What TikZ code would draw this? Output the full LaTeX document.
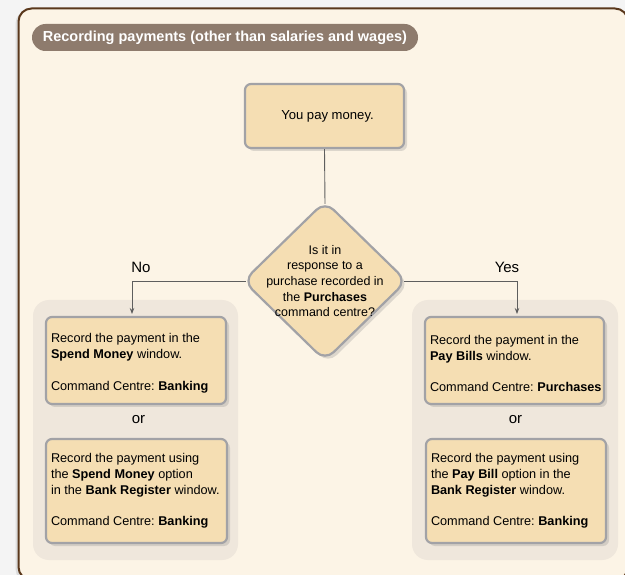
\documentclass[tikz,border=0pt]{standalone}
\usepackage{fontspec}
\setmainfont{Liberation Sans}
\usetikzlibrary{shapes.geometric,shadows,arrows.meta}
\definecolor{pagebg}{HTML}{F4F4F4}
\definecolor{framefill}{HTML}{FCF4E6}
\definecolor{framedraw}{HTML}{5A381C}
\definecolor{pillfill}{HTML}{8E7B6D}
\definecolor{groupfill}{HTML}{EFE7DC}
\definecolor{boxfill}{HTML}{F5DEB3}
\definecolor{boxdraw}{HTML}{A2A2A6}
\definecolor{linecol}{HTML}{5E5E5E}
\begin{document}
\frenchspacing
\begin{tikzpicture}[x=1pt,y=-1pt,
  boxstyle/.style={draw=boxdraw,line width=2.2pt,fill=boxfill,rounded corners=6pt,
    drop shadow={opacity=0.25,shadow xshift=3pt,shadow yshift=-3pt},
    inner sep=0pt},
  infobox/.style={boxstyle,minimum width=#1,text width=#1-10pt,align=flush left,
    font=\fontsize{12.7}{15.8}\selectfont},
  groupbox/.style={fill=groupfill,rounded corners=16pt,minimum width=205pt,minimum height=260pt},
  conn/.style={draw=linecol,line width=0.9pt},
  arr/.style={conn,-{Stealth[length=6pt,width=4.5pt]}},
  lbl/.style={font=\fontsize{15}{17}\selectfont,inner sep=0pt}
]
\useasboundingbox (0,0) rectangle (625,575);
\clip (0,0) rectangle (625,575);
\fill[pagebg] (0,0) rectangle (625,575);
\draw[fill=framefill,draw=framedraw,line width=2pt,rounded corners=13pt,
  drop shadow={opacity=0.2,shadow xshift=-3pt,shadow yshift=-2pt}] (18.5,8.5) rectangle (628,580);

\node[fill=pillfill,rounded corners=13.5pt,minimum width=386pt,minimum height=27pt,inner sep=0pt,
  text=white,font=\bfseries\fontsize{14.5}{16}\selectfont] (title) at (225,37.5)
  {Recording payments (other than salaries and wages)};

\node[groupbox] (lgroup) at (135.5,430) {};
\node[groupbox,minimum width=206pt] (rgroup) at (515,430) {};

\node[boxstyle,minimum width=159pt,minimum height=64pt,font=\fontsize{13.1}{15}\selectfont] (top) at (324.5,116) {\hspace{6pt}You pay money.};

\node[boxstyle,shape=diamond,minimum width=164pt,minimum height=160pt,rounded corners=12pt] (dia) at (325,281) {};
\node[align=center,inner sep=0pt,font=\fontsize{12.5}{15.7}\selectfont] (diatext) at (325,281)
  {Is it in\\response to a\\purchase recorded in\\the \textbf{Purchases}\\command centre?};

\node[infobox=180pt,minimum height=87pt] (l1) at (136,360.5)
  {\rule{0pt}{15pt}Record the payment in the\\\textbf{Spend Money} window.\\[15.8pt]\mbox{Command Centre: \textbf{Banking}}};
\node[lbl] (lor) at (138.5,420) {or};
\node[infobox=181pt,minimum height=104pt] (l2) at (136.5,491)
  {Record the payment using\\the \textbf{Spend Money} option\\\mbox{in the \textbf{Bank Register} window.}\\[15.8pt]\mbox{Command Centre: \textbf{Banking}}};

\node[infobox=179pt,minimum height=87pt] (r1) at (514.5,360.5)
  {\rule{0pt}{15pt}Record the payment in the\\\textbf{Pay Bills} window.\\[15.8pt]\mbox{Command Centre: \textbf{Purchases}}};
\node[lbl] (ror) at (515.5,420) {or};
\node[infobox=180pt,minimum height=104pt] (r2) at (516,491)
  {Record the payment using\\the \textbf{Pay Bill} option in the\\\textbf{Bank Register} window.\\[15.8pt]\mbox{Command Centre: \textbf{Banking}}};

\node[lbl] (nolbl) at (141,267) {No};
\node[lbl] (yeslbl) at (507,267) {Yes};

\coordinate (noend) at (132,314);
\coordinate (yesend) at (517,314);
\draw[conn] (top.south) -- ([yshift=-4pt]dia.north);
\draw[arr] ([xshift=4pt]dia.west) -| (noend);
\draw[arr] ([xshift=-4pt]dia.east) -| (yesend);
\end{tikzpicture}
\end{document}
